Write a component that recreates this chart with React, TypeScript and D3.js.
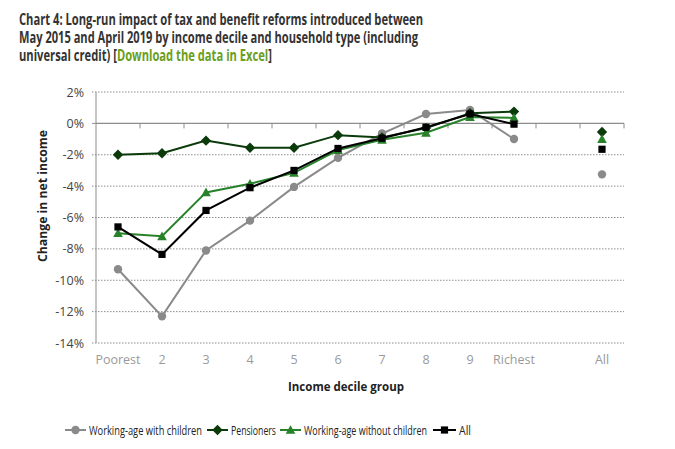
import React from "react";
import * as d3 from "d3";

const categories = ["Poorest", "2", "3", "4", "5", "6", "7", "8", "9", "Richest", "", "All"];
const deciles = ["Poorest", "2", "3", "4", "5", "6", "7", "8", "9", "Richest"];
const yTicks = [2, 0, -2, -4, -6, -8, -10, -12, -14];

const withChildren = [-9.3, -12.3, -8.1, -6.2, -4.05, -2.2, -0.65, 0.6, 0.85, -1.0];
const withChildrenAll = -3.25;
const pensioners = [-2.0, -1.9, -1.1, -1.55, -1.55, -0.75, -0.9, -0.3, 0.65, 0.75];
const pensionersAll = -0.55;
const withoutChildren = [-7.0, -7.2, -4.4, -3.85, -3.15, -1.7, -1.05, -0.6, 0.4, 0.35];
const withoutChildrenAll = -1.0;
const allHouseholds = [-6.6, -8.35, -5.55, -4.1, -3.0, -1.6, -0.95, -0.25, 0.6, -0.05];
const allHouseholdsAll = -1.65;

const seriesNames = ["Working-age with children", "Pensioners", "Working-age without children", "All"];

const FONT = "'Open Sans', 'DejaVu Sans', sans-serif";

type Shape = "circle" | "diamond" | "triangle" | "square";

function Marker({ x, y, shape, color }: { x: number; y: number; shape: Shape; color: string }) {
  if (shape === "circle") return <circle cx={x} cy={y} r={4.2} fill={color} />;
  if (shape === "diamond") {
    const s = 5.2;
    return <path d={`M${x},${y - s}L${x + s},${y}L${x},${y + s}L${x - s},${y}Z`} fill={color} />;
  }
  if (shape === "triangle") {
    const s = 4.8;
    return <path d={`M${x},${y - s}L${x + s},${y + s * 0.8}L${x - s},${y + s * 0.8}Z`} fill={color} />;
  }
  const s = 3.6;
  return <rect x={x - s} y={y - s} width={2 * s} height={2 * s} fill={color} />;
}

export default function App() {
  const x = d3.scaleBand<string>().domain(categories).range([96, 624]);
  const y = d3.scaleLinear().domain([-14, 2]).range([343, 92]);
  const cx = (c: string) => (x(c) as number) + x.bandwidth() / 2;

  const series = [
    { name: seriesNames[0], values: withChildren, all: withChildrenAll, color: "#8a8a8a", shape: "circle" as Shape },
    { name: seriesNames[1], values: pensioners, all: pensionersAll, color: "#0b3a0b", shape: "diamond" as Shape },
    { name: seriesNames[2], values: withoutChildren, all: withoutChildrenAll, color: "#27822a", shape: "triangle" as Shape },
    { name: seriesNames[3], values: allHouseholds, all: allHouseholdsAll, color: "#000000", shape: "square" as Shape },
  ];

  const line = d3
    .line<number>()
    .x((_, i) => cx(deciles[i]))
    .y((v) => y(v));

  const boundaries = d3.range(1, categories.length + 1).map((k) => 96 + k * x.bandwidth());

  const legendItems = [
    { lx: 65, tx: 89, tl: 113 },
    { lx: 207, tx: 231, tl: 45 },
    { lx: 280, tx: 304, tl: 123 },
    { lx: 433, tx: 459, tl: 12 },
  ];

  return (
    <svg width={675} height={449} style={{ position: "absolute", left: 0, top: 0, background: "#fff" }} fontFamily={FONT}>
      {/* Title */}
      <g fontWeight={700} fontSize={15.5} fill="#333">
        <text x={19} y={25} textLength={404} lengthAdjust="spacingAndGlyphs">
          Chart 4: Long-run impact of tax and benefit reforms introduced between
        </text>
        <text x={19} y={43} textLength={399} lengthAdjust="spacingAndGlyphs">
          May 2015 and April 2019 by income decile and household type (including
        </text>
        <text x={19} y={61} textLength={253} lengthAdjust="spacingAndGlyphs">
          universal credit) [<tspan fill="#6a9e1c">Download the data in Excel</tspan>]
        </text>
      </g>

      {/* Gridlines */}
      {yTicks
        .filter((t) => t !== 0)
        .map((t) => (
          <line key={t} x1={92} x2={624} y1={y(t)} y2={y(t)} stroke="#8c8c8c" strokeWidth={1} strokeDasharray="1.5,1.5" />
        ))}
      {/* Y axis */}
      <line x1={96} x2={96} y1={y(2)} y2={y(-14)} stroke="#8c8c8c" strokeWidth={1} />
      <line x1={92} x2={96} y1={y(0)} y2={y(0)} stroke="#8c8c8c" />
      {/* Zero line */}
      <line x1={96} x2={624} y1={y(0)} y2={y(0)} stroke="#8c8c8c" strokeWidth={1.2} />
      {boundaries.map((b) => (
        <line key={b} x1={b} x2={b} y1={y(0)} y2={y(0) + 5} stroke="#8c8c8c" />
      ))}

      {/* Y tick labels */}
      <g fontSize={12.5} fill="#444" textAnchor="end">
        {yTicks.map((t) => (
          <text key={t} x={84} y={y(t) + 4.5}>
            {`${t}%`}
          </text>
        ))}
      </g>

      {/* X tick labels */}
      <g fontSize={12.5} fill="#9a9a9a" textAnchor="middle">
        {categories
          .filter((c) => c !== "")
          .map((c) => (
            <text key={c} x={cx(c)} y={364}>
              {c}
            </text>
          ))}
      </g>

      {/* Axis titles */}
      <text x={346} y={391} fontSize={13} fontWeight={700} fill="#222" textAnchor="middle" textLength={116} lengthAdjust="spacingAndGlyphs">
        Income decile group
      </text>
      <text
        transform={`translate(47,196) rotate(-90)`}
        fontSize={13}
        fontWeight={700}
        fill="#222"
        textAnchor="middle"
        textLength={132}
        lengthAdjust="spacingAndGlyphs"
      >
        Change in net income
      </text>

      {/* Series */}
      {series.map((s) => (
        <g key={s.name}>
          <path d={line(s.values) as string} fill="none" stroke={s.color} strokeWidth={2} />
          {s.values.map((v, i) => (
            <Marker key={i} x={cx(deciles[i])} y={y(v)} shape={s.shape} color={s.color} />
          ))}
          <Marker x={cx("All")} y={y(s.all)} shape={s.shape} color={s.color} />
        </g>
      ))}

      {/* Legend */}
      {series.map((s, i) => {
        const it = legendItems[i];
        return (
          <g key={s.name}>
            <line x1={it.lx} x2={it.tx - 3} y1={430} y2={430} stroke={s.color} strokeWidth={2} />
            <Marker x={(it.lx + it.tx - 3) / 2} y={430} shape={s.shape} color={s.color} />
            <text x={it.tx} y={434.5} fontSize={13} fill="#222" textLength={it.tl} lengthAdjust="spacingAndGlyphs">
              {s.name}
            </text>
          </g>
        );
      })}
    </svg>
  );
}
